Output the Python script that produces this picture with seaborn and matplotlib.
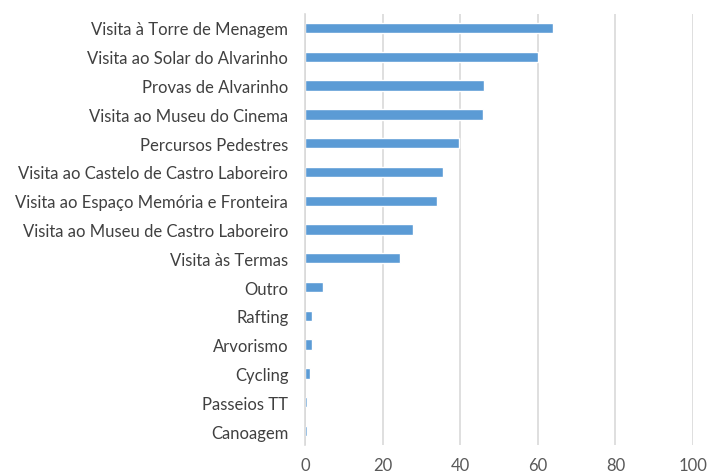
import matplotlib
matplotlib.use("Agg")
import matplotlib.pyplot as plt
import pandas as pd
import seaborn as sns

activities = [
    "Visita à Torre de Menagem",
    "Visita ao Solar do Alvarinho",
    "Provas de Alvarinho",
    "Visita ao Museu do Cinema",
    "Percursos Pedestres",
    "Visita ao Castelo de Castro Laboreiro",
    "Visita ao Espaço Memória e Fronteira",
    "Visita ao Museu de Castro Laboreiro",
    "Visita às Termas",
    "Outro",
    "Rafting",
    "Arvorismo",
    "Cycling",
    "Passeios TT",
    "Canoagem",
]
values = [64, 60, 46.2, 45.8, 39.8, 35.5, 33.9, 27.9, 24.6, 4.7, 1.7, 1.7, 1.2, 0.4, 0.4]
x_ticks = [0, 20, 40, 60, 80, 100]

sns.set_style("white")
plt.rcParams["font.family"] = ["Lato", "DejaVu Sans"]

df = pd.DataFrame({"activity": activities, "value": values})

fig = plt.figure(figsize=(7.08, 4.77), dpi=100)
ax = fig.add_axes([0.4308, 0.0641, 0.548, 0.9053])

sns.barplot(data=df, x="value", y="activity", color="#5B9BD5", width=0.36,
            saturation=1, ax=ax)

ax.set_xlim(0, 100)
ax.set_xticks(x_ticks)
ax.set_xlabel("")
ax.set_ylabel("")
ax.grid(axis="x", color="#D9D9D9", linewidth=1.2)
ax.set_axisbelow(True)
for side in ["top", "right", "bottom"]:
    ax.spines[side].set_visible(False)
ax.spines["left"].set_color("#D9D9D9")
ax.spines["left"].set_linewidth(1.2)
ax.tick_params(axis="y", length=0, pad=12, labelsize=12, labelcolor="#404040")
ax.tick_params(axis="x", length=0, pad=8, labelsize=12, labelcolor="#595959")

fig.savefig("out.png", dpi=100)
